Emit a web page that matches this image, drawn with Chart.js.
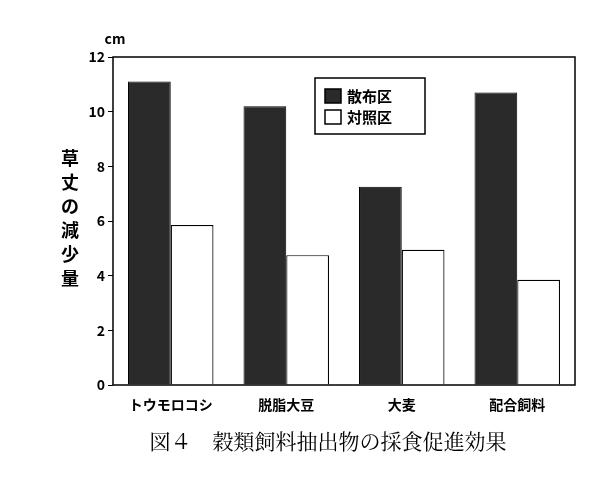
<!DOCTYPE html>
<html><head><meta charset="utf-8">
<script src="https://cdn.jsdelivr.net/npm/chart.js@4"></script>
<style>body{margin:0;background:#fff}#wrap{width:595px;height:502px}</style>
</head><body><div id="wrap"><canvas id="chart"></canvas></div>
<script>
const categories = ["トウモロコシ", "脱脂大豆", "大麦", "配合飼料"];
const sprayValues = [11.1, 10.2, 7.25, 10.7];
const controlValues = [5.85, 4.75, 4.95, 3.85];
const seriesNames = ["散布区", "対照区"];
const yTicks = [0, 2, 4, 6, 8, 10, 12];
const yTitle = "草丈の減少量";
const caption = "図４　穀類飼料抽出物の採食促進効果";
const font = "'Noto Sans CJK JP', sans-serif";

const extras = {
    id: "extras",
    afterDraw(chart) {
        const ctx = chart.ctx, a = chart.chartArea;
        ctx.save();
        ctx.strokeStyle = "#000"; ctx.lineWidth = 1.5;
        ctx.strokeRect(a.left, a.top, a.right - a.left, a.bottom - a.top);
        ctx.fillStyle = "#000";
        ctx.font = "bold 14px " + font;
        ctx.textAlign = "center"; ctx.textBaseline = "middle";
        ctx.fillText("cm", a.left + 2, a.top - 18);
        ctx.font = "bold 18px " + font;
        [...yTitle].forEach((c, i) => ctx.fillText(c, 70, 158 + i * 24));
        ctx.font = "21px 'Noto Serif CJK JP', 'Noto Sans CJK JP', serif";
        ctx.fillText(caption, 328, 441);
        // legend
        const lx = 315, ly = 78;
        ctx.lineWidth = 1.5;
        ctx.strokeRect(lx, ly, 110, 56);
        ctx.font = "bold 15px " + font; ctx.textAlign = "left";
        const fills = ["#2a2a2a", "#fff"];
        seriesNames.forEach((n, i) => {
            const y = ly + 18 + i * 21;
            ctx.fillStyle = fills[i];
            ctx.fillRect(lx + 10, y - 7, 16, 14);
            ctx.strokeRect(lx + 10, y - 7, 16, 14);
            ctx.fillStyle = "#000";
            ctx.fillText(n, lx + 32, y);
        });
        ctx.restore();
    }
};

new Chart(document.getElementById("chart"), {
    type: "bar",
    data: {
        labels: categories,
        datasets: [
            { label: seriesNames[0], data: sprayValues, backgroundColor: "#2a2a2a", borderColor: "#000", borderWidth: 1 },
            { label: seriesNames[1], data: controlValues, backgroundColor: "#fff", borderColor: "#000", borderWidth: 1.2 }
        ]
    },
    options: {
        responsive: true, maintainAspectRatio: false, animation: false,
        layout: { padding: { left: 60, top: 57, right: 20, bottom: 82 } },
        datasets: { bar: { categoryPercentage: 0.74, barPercentage: 1 } },
        plugins: { legend: { display: false }, tooltip: { enabled: false } },
        scales: {
            x: {
                grid: { display: false }, border: { display: false },
                ticks: { color: "#000", font: { family: font, size: 14, weight: "bold" } },
                afterFit(s) { s.height = 35; }
            },
            y: {
                min: 0, max: 12,
                afterBuildTicks(s) { s.ticks = yTicks.map(v => ({ value: v })); },
                grid: { drawOnChartArea: false, drawTicks: true, tickLength: 5, color: "#000" },
                border: { display: false },
                ticks: { color: "#000", font: { family: font, size: 14, weight: "bold" } },
                afterFit(s) { s.width = 53; }
            }
        }
    },
    plugins: [extras]
});
</script></body></html>
